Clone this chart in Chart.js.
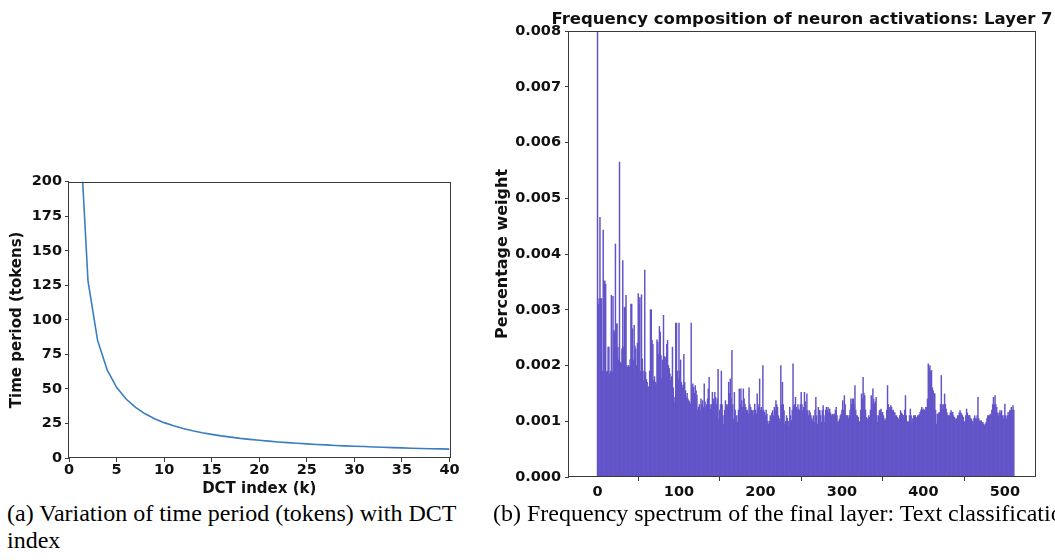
<!DOCTYPE html>
<html>
<head>
<meta charset="utf-8">
<title>DCT period and frequency spectrum</title>
<script src="https://cdn.jsdelivr.net/npm/chart.js@4.4.1/dist/chart.umd.min.js"></script>
<style>
  html, body { margin: 0; padding: 0; background: #fff; overflow: hidden; }
  body { width: 1055px; height: 560px; position: relative; }
  canvas { position: absolute; }
  #periodChart { left: 0; top: 170px; }
  #spectrumChart { left: 470px; top: 0; }
  .caption {
    position: absolute;
    font-family: "Liberation Serif", "Times New Roman", serif;
    font-size: 24px;
    line-height: 27px;
    white-space: nowrap;
    color: #000;
  }
</style>
</head>
<body>
<canvas id="periodChart" width="470" height="330"></canvas>
<canvas id="spectrumChart" width="585" height="505"></canvas>
<div class="caption" style="left:7px; top:500px;">(a) Variation of time period (tokens) with DCT<br>index</div>
<div class="caption" style="left:493px; top:500px;">(b) Frequency spectrum of the final layer: Text classification</div>

<script>
// --- DATA ---
// (a) time period in tokens for each DCT index k
const dctIndex = [1, 2, 3, 4, 5, 6, 7, 8, 9, 10, 11, 12, 13, 14, 15, 16, 17, 18, 19, 20,
  21, 22, 23, 24, 25, 26, 27, 28, 29, 30, 31, 32, 33, 34, 35, 36, 37, 38, 39, 40];
const timePeriod = [256, 128, 85.3, 64, 51.2, 42.7, 36.6, 32, 28.4, 25.6, 23.3, 21.3, 19.7, 18.3, 17.1, 16, 15.1, 14.2, 13.5, 12.8,
  12.2, 11.6, 11.1, 10.7, 10.2, 9.8, 9.5, 9.1, 8.8, 8.5, 8.3, 8, 7.8, 7.5, 7.3, 7.1, 6.9, 6.7, 6.6, 6.4];
const periodTicksX = [0, 5, 10, 15, 20, 25, 30, 35, 40];
const periodTicksY = [0, 25, 50, 75, 100, 125, 150, 175, 200];

// (b) weight per frequency bin, in units of 0.001 (bins 0..511)
const binWeight = [
  7.98, 3.1, 3.2, 4.66, 3.2, 3.2, 1.9, 4.43, 3.5, 3.52,
  3.46, 1.88, 1.9, 2.33, 2.33, 1.85, 1.9, 3.26, 1.88, 3.24,
  2.63, 2.6, 4.18, 2.74, 2.75, 2.33, 2.1, 5.65, 2.06, 2.03,
  2.3, 3.88, 2.33, 3.04, 3.05, 3.26, 2.0, 1.97, 2.0, 1.97,
  2.1, 3.1, 3.1, 2.66, 2.1, 2.72, 2.35, 2.3, 2.0, 2.4,
  3.29, 3.1, 3.22, 1.9, 3.27, 2.12, 1.73, 1.9, 3.71, 1.88,
  1.75, 1.7, 1.6, 1.62, 1.9, 3.0, 3.0, 2.45, 2.38, 1.73,
  1.8, 1.7, 1.67, 2.46, 2.42, 2.2, 2.7, 2.6, 2.18, 1.76,
  2.1, 2.9, 2.16, 2.15, 2.1, 2.38, 2.45, 2.0, 1.95, 1.85,
  1.73, 1.8, 2.33, 1.6, 1.43, 1.34, 2.76, 2.76, 1.9, 1.76,
  2.76, 1.9, 2.1, 1.7, 1.6, 1.65, 2.2, 1.7, 1.55, 1.43,
  1.5, 1.4, 1.37, 1.35, 1.31, 2.76, 1.6, 1.67, 1.61, 1.5,
  1.64, 1.55, 1.47, 1.2, 1.25, 1.3, 1.2, 1.4, 1.3, 1.37,
  1.25, 1.67, 1.35, 1.25, 1.3, 1.4, 1.58, 1.79, 1.3, 1.22,
  1.3, 1.52, 1.4, 1.35, 1.52, 1.43, 1.3, 1.4, 1.93, 1.04,
  1.2, 1.3, 1.9, 1.3, 1.1, 0.95, 1.2, 1.37, 1.3, 1.25,
  1.3, 1.7, 1.5, 1.76, 1.4, 2.27, 1.3, 1.04, 1.52, 1.2,
  1.01, 1.1, 0.98, 1.2, 1.58, 1.3, 1.58, 1.37, 1.25, 1.58,
  1.4, 1.31, 1.25, 1.19, 1.2, 1.13, 1.6, 1.3, 1.25, 1.2,
  1.19, 1.1, 1.2, 1.31, 1.2, 1.13, 1.49, 1.3, 1.25, 1.76,
  1.2, 1.25, 1.19, 2.0, 1.2, 1.16, 1.1, 1.2, 1.13, 1.0,
  0.95, 1.0, 1.1, 1.07, 1.15, 1.19, 1.1, 1.25, 1.2, 1.37,
  1.3, 1.25, 1.1, 1.05, 0.98, 2.0, 1.3, 1.7, 1.3, 1.19,
  0.95, 1.0, 1.1, 1.05, 1.0, 0.9, 1.25, 1.1, 1.01, 1.2,
  2.03, 1.28, 1.3, 1.43, 1.25, 1.2, 1.3, 1.22, 1.19, 1.3,
  1.52, 1.3, 1.19, 1.25, 1.52, 1.35, 1.2, 1.49, 1.19, 1.1,
  1.19, 1.15, 1.1, 1.05, 1.01, 1.1, 0.98, 1.2, 1.43, 1.1,
  0.95, 1.25, 1.2, 1.19, 1.1, 0.98, 1.2, 1.28, 1.1, 0.98,
  1.2, 1.25, 1.2, 1.25, 1.15, 1.22, 1.15, 1.1, 1.12, 1.13,
  1.1, 1.13, 1.2, 1.25, 1.1, 0.98, 1.0, 1.04, 1.1, 1.13,
  1.2, 1.37, 1.2, 1.46, 1.3, 1.1, 1.1, 1.1, 1.05, 1.1,
  1.2, 1.4, 1.3, 1.4, 1.4, 1.3, 1.64, 1.2, 1.1, 1.1,
  1.07, 1.0, 0.98, 1.2, 1.49, 1.4, 1.79, 1.5, 1.46, 1.2,
  1.07, 1.05, 1.01, 1.1, 1.07, 1.2, 1.46, 1.3, 1.58, 1.4,
  1.31, 1.35, 1.43, 1.1, 0.98, 1.1, 1.19, 1.2, 1.22, 1.15,
  1.16, 1.1, 1.01, 1.05, 1.01, 1.2, 1.64, 1.3, 1.25, 1.2,
  1.28, 1.25, 1.19, 1.2, 1.16, 1.15, 1.1, 1.1, 1.07, 1.05,
  1.01, 1.1, 1.19, 1.15, 1.13, 1.1, 1.1, 1.2, 1.46, 1.1,
  0.98, 1.0, 0.98, 1.1, 1.22, 1.1, 0.98, 1.05, 1.1, 1.1,
  1.1, 1.05, 1.07, 1.1, 1.1, 1.12, 1.16, 1.2, 1.25, 1.2,
  1.22, 1.2, 1.19, 1.25, 1.25, 1.4, 2.03, 1.95, 2.0, 1.9,
  1.91, 1.6, 1.55, 1.5, 1.49, 1.2, 0.95, 1.13, 1.13, 1.15,
  1.16, 1.3, 1.82, 1.3, 1.22, 1.3, 1.49, 1.3, 1.22, 1.15,
  1.1, 1.1, 1.1, 1.15, 1.19, 1.15, 1.16, 1.1, 1.07, 1.05,
  1.01, 1.05, 1.1, 1.1, 1.15, 1.19, 1.15, 1.13, 1.1, 1.07,
  1.0, 0.98, 1.1, 1.22, 1.15, 1.1, 1.1, 1.1, 1.05, 1.04,
  1.0, 0.95, 1.05, 1.1, 1.05, 1.04, 1.1, 1.43, 1.05, 1.01,
  1.0, 1.01, 0.98, 0.98, 0.95, 0.92, 0.95, 0.98, 1.05, 1.1,
  1.1, 1.1, 1.12, 1.13, 1.2, 1.3, 1.43, 1.3, 1.46, 1.3,
  1.25, 1.15, 1.1, 1.15, 1.19, 1.15, 1.19, 1.1, 1.04, 1.1,
  1.31, 1.1, 1.04, 1.1, 1.16, 1.1, 1.19, 1.2, 1.25, 1.2,
  1.28, 1.2
];
const spectrumTicksX = [0, 100, 200, 300, 400, 500];
const spectrumTicksY = [0, 1, 2, 3, 4, 5, 6, 7, 8];
const spectrumTitle = 'Frequency composition of neuron activations: Layer 7';

// --- SHARED STYLE ---
const FONT = 'DejaVu Sans';
const tickFont = { family: FONT, size: 14.5, weight: 'bold' };
const labelFont = { family: FONT, size: 15, weight: 'bold' };
const bigLabelFont = { family: FONT, size: 16, weight: 'bold' };

// black frame round the plot area (all four sides)
const framePlugin = {
  id: 'frame',
  afterDatasetsDraw(chart) {
    const { ctx, chartArea: a } = chart;
    ctx.save();
    ctx.strokeStyle = '#3a3a3a';
    ctx.lineWidth = 1;
    ctx.strokeRect(Math.round(a.left) - 0.5, Math.round(a.top) + 0.5,
      Math.round(a.right - a.left) + 1, Math.round(a.bottom - a.top) - 1);
    ctx.restore();
  }
};

// heading centred over the plot area; allowed to run wider than the plot
const headingPlugin = {
  id: 'heading',
  afterDraw(chart, args, opts) {
    const { ctx, chartArea: a } = chart;
    ctx.save();
    ctx.font = `bold ${opts.size}px "${FONT}"`;
    ctx.fillStyle = '#111';
    ctx.textAlign = 'center';
    ctx.textBaseline = 'alphabetic';
    ctx.fillText(opts.text, (a.left + a.right) / 2, opts.baseline);
    ctx.restore();
  }
};

function fixedTicks(values) {
  return function (scale) {
    scale.ticks = values.map(v => ({ value: v }));
  };
}

function axis(opts) {
  return {
    type: 'linear',
    min: opts.min,
    max: opts.max,
    offset: false,
    afterBuildTicks: fixedTicks(opts.ticks),
    afterFit: opts.fit,
    grid: { display: true, drawOnChartArea: false, drawTicks: true, tickLength: 4, tickColor: '#3a3a3a' },
    border: { display: false },
    ticks: {
      font: tickFont,
      color: '#111',
      padding: opts.pad,
      maxRotation: 0,
      autoSkip: false,
      callback: opts.format || (v => v)
    },
    title: opts.title ? {
      display: true,
      text: opts.title,
      font: opts.titleFont || labelFont,
      color: '#111',
      padding: opts.titlePad
    } : { display: false }
  };
}

// --- (a) TIME PERIOD vs DCT INDEX ---
new Chart(document.getElementById('periodChart'), {
  type: 'line',
  data: {
    datasets: [{
      data: dctIndex.map((k, i) => ({ x: k, y: timePeriod[i] })),
      borderColor: '#3b7ec0',
      borderWidth: 1.6,
      pointRadius: 0,
      tension: 0,
      fill: false
    }]
  },
  options: {
    responsive: false,
    animation: false,
    devicePixelRatio: 1,
    layout: { padding: { left: 0, right: 20.5, top: 10, bottom: 0 } },
    plugins: { legend: { display: false }, tooltip: { enabled: false } },
    scales: {
      x: axis({ min: 0, max: 40, ticks: periodTicksX, pad: 0,
        fit: s => { s.height = 42; },
        title: 'DCT index (k)', titlePad: { top: 0, bottom: 2 } }),
      y: axis({ min: 0, max: 200, ticks: periodTicksY, pad: 3,
        fit: s => { s.width = 69; },
        title: 'Time period (tokens)', titlePad: { top: 8, bottom: 0 } })
    }
  },
  plugins: [framePlugin]
});

// --- (b) FREQUENCY SPECTRUM ---
new Chart(document.getElementById('spectrumChart'), {
  type: 'bar',
  data: {
    datasets: [{
      data: binWeight.map((w, i) => ({ x: i, y: w })),
      backgroundColor: '#6254c8',
      borderWidth: 0,
      barPercentage: 1,
      categoryPercentage: 1
    }]
  },
  options: {
    responsive: false,
    animation: false,
    devicePixelRatio: 1,
    layout: { padding: { left: 0, right: 20, top: 31, bottom: 0 } },
    plugins: {
      legend: { display: false },
      tooltip: { enabled: false },
      heading: { text: spectrumTitle, size: 16.5, baseline: 24 }
    },
    scales: {
      x: axis({ min: -35, max: 537, ticks: spectrumTicksX, pad: 3,
        fit: s => { s.height = 28; } }),
      y: axis({ min: 0, max: 8, ticks: spectrumTicksY, pad: 4,
        fit: s => { s.width = 99; },
        format: v => (v / 1000).toFixed(3),
        title: 'Percentage weight', titleFont: bigLabelFont, titlePad: { top: 23.4, bottom: 0 } })
    }
  },
  plugins: [framePlugin, headingPlugin]
});
</script>
</body>
</html>
